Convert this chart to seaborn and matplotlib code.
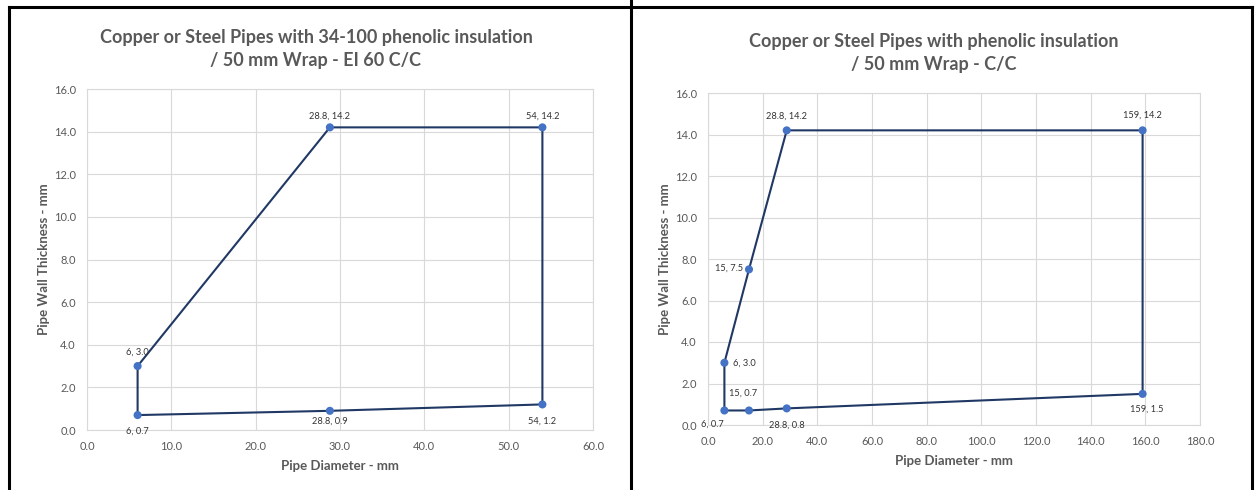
import matplotlib
matplotlib.use("Agg")
import matplotlib.pyplot as plt
import seaborn as sns
import pandas as pd
from matplotlib.lines import Line2D

# data (path order, closed polygon)
left_diameter = [6, 6, 28.8, 54, 54, 28.8, 6]
left_thickness = [0.7, 3.0, 14.2, 14.2, 1.2, 0.9, 0.7]
left_labels = ["6, 0.7", "6, 3.0", "28.8, 14.2", "54, 14.2", "54, 1.2", "28.8, 0.9"]

right_diameter = [6, 6, 15, 28.8, 159, 159, 28.8, 15, 6]
right_thickness = [0.7, 3.0, 7.5, 14.2, 14.2, 1.5, 0.8, 0.7, 0.7]
right_labels = ["6, 0.7", "6, 3.0", "15, 7.5", "28.8, 14.2", "159, 14.2", "159, 1.5", "28.8, 0.8", "15, 0.7"]

left_title = "Copper or Steel Pipes with 34-100 phenolic insulation\n/ 50 mm Wrap - EI 60 C/C"
right_title = "Copper or Steel Pipes with phenolic insulation\n/ 50 mm Wrap - C/C"
x_label = "Pipe Diameter - mm"
y_label = "Pipe Wall Thickness - mm"

# label offsets in pixels (dx, dy, ha)
left_offsets = [(0, -16, "center"), (0, 14, "center"), (0, 11, "center"), (0, 11, "center"),
                (0, -17, "center"), (0, -10, "center")]
right_offsets = [(-12, -14, "center"), (9, 0, "left"), (-6, 1, "right"), (0, 14, "center"),
                 (0, 15, "center"), (4, -15, "center"), (0, -17, "center"), (-6, 17, "center")]

LINE_COL = "#203864"
MARK_COL = "#4472C4"
TEXT_COL = "#595959"
GRID_COL = "#D9D9D9"

sns.set_theme(style="white")
plt.rcParams["font.family"] = ["Lato", "DejaVu Sans"]

fig = plt.figure(figsize=(12.55, 4.9), dpi=100)
W, H = 1255, 490


def box(x0, y0, x1, y1):
    return [x0 / W, 1 - y1 / H, (x1 - x0) / W, (y1 - y0) / H]


def draw_panel(ax, xs, ys, labels, offsets, xmax, xstep):
    df = pd.DataFrame({"d": xs, "t": ys})
    sns.lineplot(data=df, x="d", y="t", sort=False, estimator=None, color=LINE_COL,
                 linewidth=1.5, ax=ax)
    pts = df.iloc[:-1]
    sns.scatterplot(data=pts, x="d", y="t", color=MARK_COL, s=34, edgecolor="none",
                    zorder=5, ax=ax)
    for (px, py), lab, (dx, dy, ha) in zip(pts.values, labels, offsets):
        ax.annotate(lab, (px, py), xytext=(dx, dy), textcoords="offset pixels",
                    ha=ha, va="center", fontsize=6.7, color="#333333")
    ax.set_xlim(0, xmax)
    ax.set_ylim(0, 16)
    ax.set_xticks(range(0, xmax + 1, xstep))
    ax.set_yticks(range(0, 17, 2))
    ax.set_xticklabels([f"{v:.1f}" for v in range(0, xmax + 1, xstep)])
    ax.set_yticklabels([f"{v:.1f}" for v in range(0, 17, 2)])
    ax.tick_params(length=0, labelsize=8, labelcolor=TEXT_COL, pad=8)
    ax.grid(True, color=GRID_COL, linewidth=0.8)
    for sp in ax.spines.values():
        sp.set_color(GRID_COL)
        sp.set_linewidth(0.8)
    ax.set_xlabel(x_label, fontsize=9.5, fontweight="bold", color=TEXT_COL, labelpad=6)
    ax.set_ylabel(y_label, fontsize=9.5, fontweight="bold", color=TEXT_COL, labelpad=3)


ax1 = fig.add_axes(box(87, 89, 593, 430))
draw_panel(ax1, left_diameter, left_thickness, left_labels, left_offsets, 60, 10)
fig.text(316 / W, 1 - 49 / H, left_title, ha="center", va="center", fontsize=13,
         fontweight="bold", color=TEXT_COL, linespacing=1.45)

ax2 = fig.add_axes(box(708, 93, 1200, 425))
draw_panel(ax2, right_diameter, right_thickness, right_labels, right_offsets, 180, 20)
fig.text(934 / W, 1 - 53 / H, right_title, ha="center", va="center", fontsize=13,
         fontweight="bold", color=TEXT_COL, linespacing=1.45)

# table-like black borders around the two cells
ty = 1 - 7.5 / H
for seg in [((9 / W, 1252 / W), (ty, ty)),
            ((9 / W, 9 / W), (0, ty)),
            ((631 / W, 631 / W), (0, 1)),
            ((1252 / W, 1252 / W), (0, ty))]:
    fig.add_artist(Line2D(seg[0], seg[1], color="black", linewidth=2.2,
                          transform=fig.transFigure, solid_capstyle="projecting"))

fig.savefig("out.png", dpi=100)
